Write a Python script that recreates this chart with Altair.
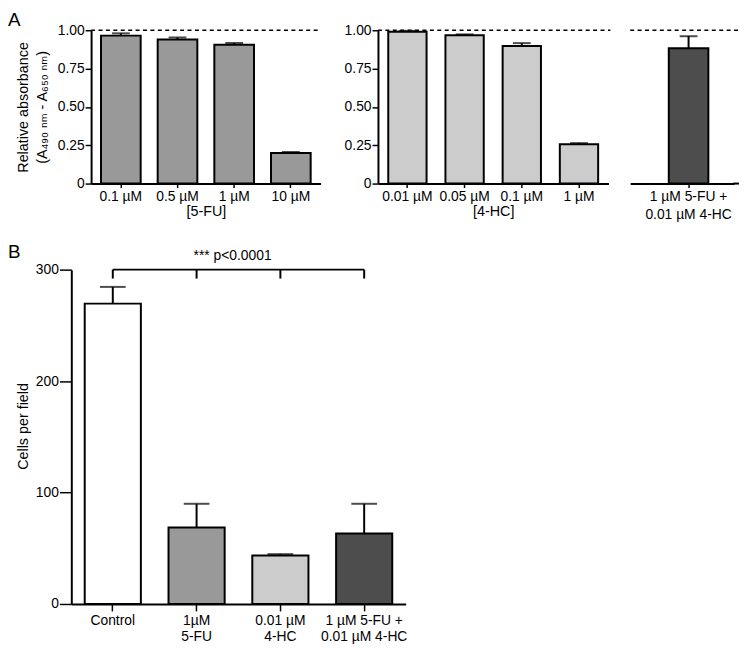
import altair as alt
import pandas as pd

FONT = "Liberation Sans, Arial, DejaVu Sans"

# ---------------- data ----------------
a1_labels = ["0.1 µM", "0.5 µM", "1 µM", "10 µM"]
a1_values = [0.965, 0.94, 0.905, 0.20]
a1_err = [0.015, 0.013, 0.012, 0.006]

a2_labels = ["0.01 µM", "0.05 µM", "0.1 µM", "1 µM"]
a2_values = [0.99, 0.968, 0.898, 0.256]
a2_err = [0.006, 0.005, 0.018, 0.008]

a3_labels = ["1 µM 5-FU +\n0.01 µM 4-HC"]
a3_values = [0.882]
a3_err = [0.079]

b_labels = ["Control", "1µM\n5-FU", "0.01 µM\n4-HC", "1 µM 5-FU +\n0.01 µM 4-HC"]
b_values = [269.5, 68.6, 43.5, 63.3]
b_err = [15.0, 21.3, 1.2, 26.6]
b_colors = ["#ffffff", "#999999", "#cccccc", "#4d4d4d"]

a_ticks = [0, 0.25, 0.5, 0.75, 1.0]
b_ticks = [0, 100, 200, 300]
reference_line = [1.0]
baseline = [0.0]
bracket_top = [300]
bracket_drop = [292]
sig_text = ["*** p<0.0001"]
a_title = ["Relative absorbance", "(A₄₉₀ ₙₘ - A₆₅₀ ₙₘ)"]
b_title = "Cells per field"

SPLIT = "split(datum.label, '\\n')"


def a_panel(labels, values, errs, color, width, xscale, xtitle, show_y, extend=0, line_h=18.5):
    df = pd.DataFrame({"cat": labels, "val": values,
                       "up": [v + e for v, e in zip(values, errs)]})
    xaxis = alt.Axis(title=xtitle, labelAngle=0, tickSize=4, labelPadding=2,
                     labelExpr=SPLIT, labelLineHeight=line_h, titlePadding=1)
    x = alt.X("cat:N", sort=labels, scale=xscale, axis=xaxis)
    yscale = alt.Scale(domain=[0, 1], nice=False)
    if show_y:
        yaxis = alt.Axis(values=a_ticks, tickSize=6, labelPadding=1,
                         labelExpr="datum.value == 0 ? '0' : format(datum.value, '.2f')",
                         title=a_title if show_y == "title" else None,
                         titlePadding=8, titleLineHeight=19)
    else:
        yaxis = None

    def yenc(f):
        return alt.Y(f, scale=yscale, axis=yaxis)

    base = alt.Chart(df)
    bars = base.mark_bar(color=color, stroke="black", strokeWidth=2).encode(x=x, y=yenc("val:Q"))
    err = base.mark_rule(color="black", strokeWidth=2).encode(x=x, y=yenc("val:Q"), y2="up:Q")
    cap = base.mark_tick(color="black", thickness=2, size=18).encode(x=x, y=yenc("up:Q"))
    dash = alt.Chart(pd.DataFrame({"ref": reference_line})).mark_rule(
        color="black", strokeDash=[4, 3.5], strokeWidth=1.5
    ).encode(y=yenc("ref:Q"), x=alt.value(0), x2=alt.value(width + extend))
    layers = [bars, err, cap, dash]
    if extend > 3:
        base_line = alt.Chart(pd.DataFrame({"b": baseline})).mark_rule(
            color="black", strokeWidth=2
        ).encode(y=yenc("b:Q"), x=alt.value(width - 1), x2=alt.value(width + extend))
        layers.append(base_line)
    return alt.layer(*layers).properties(width=width, height=155)


a1 = a_panel(a1_labels, a1_values, a1_err, "#999999", 232,
             alt.Scale(domain=a1_labels, paddingInner=0.3, paddingOuter=0.175), "[5-FU]", "title")
a2 = a_panel(a2_labels, a2_values, a2_err, "#cccccc", 233,
             alt.Scale(domain=a2_labels, paddingInner=0.33, paddingOuter=0.18), "[4-HC]", "plain",
             extend=2)
a3 = a_panel(a3_labels, a3_values, a3_err, "#4d4d4d", 105,
             alt.Scale(domain=a3_labels, paddingInner=0, paddingOuter=0.8125, align=0.6), None, False,
             extend=5)

label_a = alt.Chart(pd.DataFrame({"t": ["A"]})).mark_text(
    font=FONT, fontSize=19, align="left", baseline="top", color="black"
).encode(text="t:N", x=alt.value(-84), y=alt.value(-19))
a1 = alt.layer(a1, label_a)


def spacer(w):
    return alt.Chart(pd.DataFrame({"s": [0]})).mark_point(opacity=0, size=1).properties(width=w, height=155)


# gaps: lead 20 = 11 + 9 ; A1->A2 58 = 9 + 40 + 9 ; A2->A3 22 = 9 + 4 + 9
top = alt.hconcat(spacer(11), a1, spacer(40), a2, spacer(4), a3, spacing=9, bounds="flush")

# ---------------- panel B ----------------
bdf = pd.DataFrame({"cat": b_labels, "val": b_values,
                    "up": [v + e for v, e in zip(b_values, b_err)]})
bx = alt.X("cat:N", sort=b_labels,
           scale=alt.Scale(domain=b_labels, paddingInner=0.33, paddingOuter=0.16),
           axis=alt.Axis(title=None, labelAngle=0, tickSize=7, labelPadding=3,
                         labelExpr=SPLIT, labelLineHeight=16))
byscale = alt.Scale(domain=[0, 300], nice=False)
byaxis = alt.Axis(values=b_ticks, tickSize=12, labelPadding=1, title=b_title,
                  titlePadding=5, titleY=158)


def byenc(f):
    return alt.Y(f, scale=byscale, axis=byaxis)


bbase = alt.Chart(bdf)
bbars = bbase.mark_bar(stroke="black", strokeWidth=2).encode(
    x=bx, y=byenc("val:Q"),
    color=alt.Color("cat:N", scale=alt.Scale(domain=b_labels, range=b_colors), legend=None))
berr = bbase.mark_rule(color="black", strokeWidth=2).encode(x=bx, y=byenc("val:Q"), y2="up:Q")
bcap = bbase.mark_tick(color="black", thickness=2, size=26).encode(x=bx, y=byenc("up:Q"))

brk_h = alt.Chart(pd.DataFrame({"cat": [b_labels[0]], "cat2": [b_labels[-1]], "y": bracket_top})).mark_rule(
    color="black", strokeWidth=2).encode(x=bx, x2="cat2:N", y=byenc("y:Q"))
brk_v = alt.Chart(pd.DataFrame({"cat": b_labels, "y": bracket_top * 4, "y2": bracket_drop * 4})).mark_rule(
    color="black", strokeWidth=2).encode(x=bx, y=byenc("y:Q"), y2="y2:Q")
sig = alt.Chart(pd.DataFrame({"t": sig_text})).mark_text(
    font=FONT, fontSize=14, color="black", baseline="middle"
).encode(text="t:N", x=alt.value(163), y=alt.value(-13.5))
label_b = alt.Chart(pd.DataFrame({"t": ["B"]})).mark_text(
    font=FONT, fontSize=19, align="left", baseline="top", color="black"
).encode(text="t:N", x=alt.value(-64), y=alt.value(-27))

bpanel = alt.layer(bbars, berr, bcap, brk_h, brk_v, sig, label_b).properties(width=338, height=338)

chart = alt.vconcat(top, bpanel, spacing=21).properties(
    padding={"left": 0, "top": 0, "right": 0, "bottom": 0},
    background="white",
).configure_view(strokeWidth=0).configure_axis(
    domainColor="black", domainWidth=2, tickColor="black", tickWidth=1.5,
    labelColor="black", titleColor="black", labelFont=FONT, titleFont=FONT,
    labelFontSize=14, titleFontSize=14.5, titleFontWeight="normal", grid=False,
    labelOverlap=False,
)

chart.save("out.html", embed_options={"renderer": "svg", "actions": False})
